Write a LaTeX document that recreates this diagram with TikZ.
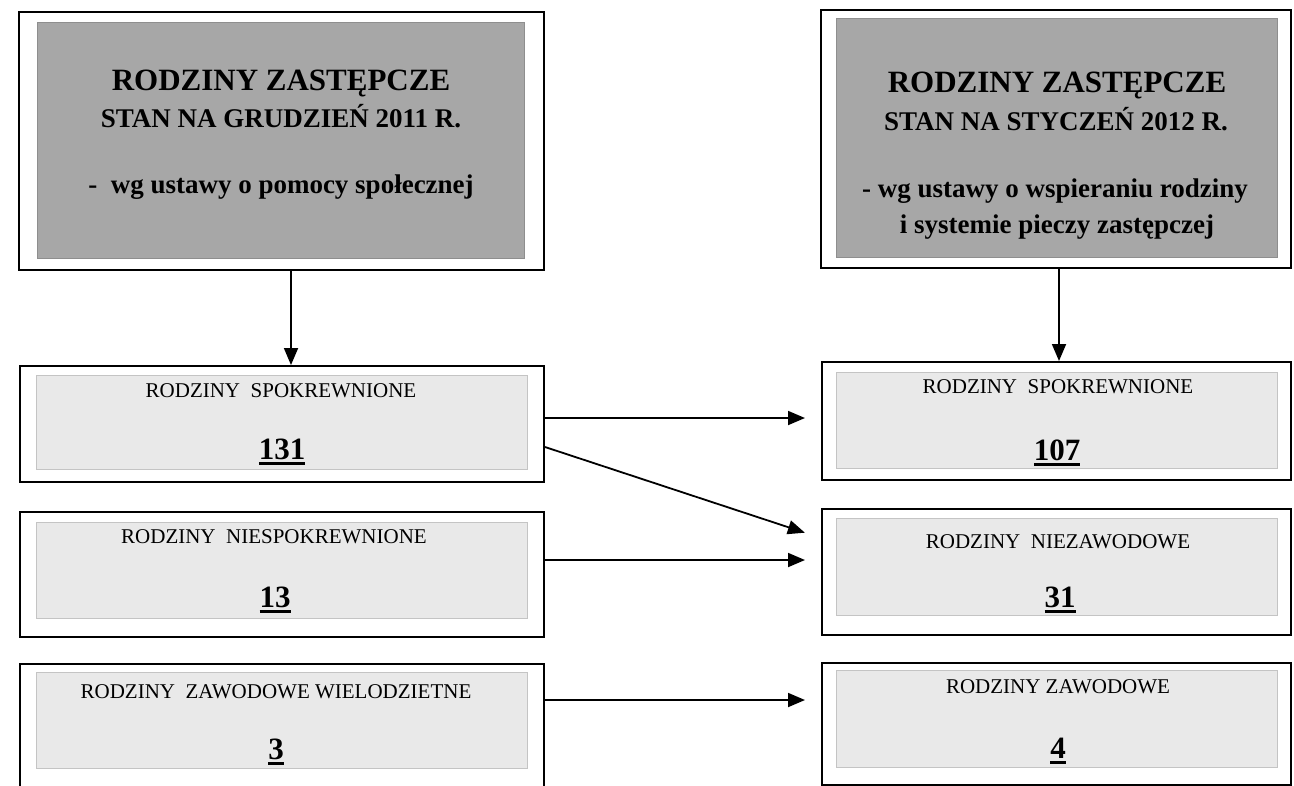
\documentclass[tikz,border=0pt]{standalone}
\usepackage{fontspec}
\setmainfont{Liberation Serif}
\usepackage{graphicx}
\usetikzlibrary{arrows.meta}
\definecolor{topgray}{HTML}{A7A7A7}
\definecolor{lowgray}{HTML}{E9E9E9}
\definecolor{lowedge}{HTML}{C4C4C4}
\newcommand\ulnum[1]{\vtop{\hbox{#1}\kern3pt\hrule height 3pt}}
\tikzset{
  outerbox/.style={draw=black, line width=2pt, fill=white, inner sep=0pt, anchor=north west},
  topfill/.style={fill=topgray, draw=topgray!85!black, line width=0.6pt, inner sep=0pt, anchor=north west},
  lowfill/.style={fill=lowgray, draw=lowedge, line width=0.8pt, inner sep=0pt, anchor=north west},
  conn/.style={line width=1.8pt, -{Triangle[length=17pt,width=14pt]}},
  titletxt/.style={font=\fontsize{31}{34}\selectfont\bfseries, inner sep=0pt, anchor=base},
  datetxt/.style={font=\fontsize{27}{30}\selectfont\bfseries, inner sep=0pt, anchor=base},
  lawtxt/.style={font=\fontsize{27}{30}\selectfont\bfseries, inner sep=0pt, anchor=base},
  labeltxt/.style={font=\fontsize{21}{24}\selectfont, inner sep=0pt, anchor=base},
  numtxt/.style={font=\fontsize{31}{33}\selectfont\bfseries, inner sep=0pt, anchor=base}
}
\begin{document}
\begin{tikzpicture}[x=1pt,y=-1pt]
\clip (0,0) rectangle (1294,785);
\fill[white] (0,0) rectangle (1294,785);

% top boxes
\node[outerbox, minimum width=525pt, minimum height=258pt] (tl) at (18,11) {};
\node[topfill, minimum width=487pt, minimum height=236pt] (tlin) at (37,22) {};
\node[titletxt] (tlt1) at (281,90) {RODZINY ZASTĘPCZE};
\node[datetxt] (tlt2) at (281,127) {STAN NA GRUDZIEŃ 2011 R.};
\node[lawtxt] (tlt3) at (281,193) {-\ \ wg ustawy o pomocy społecznej};

\node[outerbox, minimum width=470pt, minimum height=258pt] (tr) at (820,9) {};
\node[topfill, minimum width=441pt, minimum height=239pt] (trin) at (836,18) {};
\node[titletxt] (trt1) at (1057,92) {RODZINY ZASTĘPCZE};
\node[datetxt] (trt2) at (1056,130) {STAN NA STYCZEŃ 2012 R.};
\node[lawtxt] (trt3) at (1055,197) {- wg ustawy o wspieraniu rodziny};
\node[lawtxt] (trt4) at (1057,233) {i systemie pieczy zastępczej};

% left column
\node[outerbox, minimum width=524pt, minimum height=116pt] (l1) at (19,365) {};
\node[lowfill, minimum width=491pt, minimum height=94pt] (l1in) at (36,375) {};
\node[labeltxt] (l1t) at (281,397) {RODZINY\ \ SPOKREWNIONE};
\node[numtxt] (l1n) at (282,459) {\ulnum{131}};

\node[outerbox, minimum width=524pt, minimum height=125pt] (l2) at (19,511) {};
\node[lowfill, minimum width=491pt, minimum height=96pt] (l2in) at (36,522) {};
\node[labeltxt] (l2t) at (274,543) {RODZINY\ \ NIESPOKREWNIONE};
\node[numtxt] (l2n) at (275,607) {\ulnum{13}};

\node[outerbox, minimum width=524pt, minimum height=137pt] (l3) at (19,663) {};
\node[lowfill, minimum width=491pt, minimum height=96pt] (l3in) at (36,672) {};
\node[labeltxt] (l3t) at (276,698) {RODZINY\ \ ZAWODOWE WIELODZIETNE};
\node[numtxt] (l3n) at (276,759) {\ulnum{3}};

% right column
\node[outerbox, minimum width=469pt, minimum height=118pt] (r1) at (821,361) {};
\node[lowfill, minimum width=441pt, minimum height=96pt] (r1in) at (836,372) {};
\node[labeltxt] (r1t) at (1058,393) {RODZINY\ \ SPOKREWNIONE};
\node[numtxt] (r1n) at (1057,460) {\ulnum{107}};

\node[outerbox, minimum width=469pt, minimum height=126pt] (r2) at (821,508) {};
\node[lowfill, minimum width=441pt, minimum height=97pt] (r2in) at (836,518) {};
\node[labeltxt] (r2t) at (1058,548) {RODZINY\ \ NIEZAWODOWE};
\node[numtxt] (r2n) at (1060,607) {\ulnum{31}};

\node[outerbox, minimum width=469pt, minimum height=122pt] (r3) at (821,662) {};
\node[lowfill, minimum width=441pt, minimum height=97pt] (r3in) at (836,670) {};
\node[labeltxt] (r3t) at (1058,693) {RODZINY ZAWODOWE};
\node[numtxt] (r3n) at (1058,758) {\ulnum{4}};

% connectors
\coordinate (a1) at (291,0);
\coordinate (a2) at (1059,0);
\coordinate (h1) at (0,418);
\coordinate (d1) at (0,447);
\coordinate (d2) at (0,538);
\coordinate (h2) at (0,560);
\coordinate (h3) at (0,700);
\draw[conn] (tl.south -| a1) -- (l1.north -| a1);
\draw[conn] (tr.south -| a2) -- (r1.north -| a2);
\draw[conn, shorten >=16pt] (l1.east |- h1) -- (r1.west |- h1);
\draw[conn, shorten >=17pt] (l1.east |- d1) -- (r2.west |- d2);
\draw[conn, shorten >=16pt] (l2.east |- h2) -- (r2.west |- h2);
\draw[conn, shorten >=16pt] (l3.east |- h3) -- (r3.west |- h3);
\end{tikzpicture}
\end{document}
